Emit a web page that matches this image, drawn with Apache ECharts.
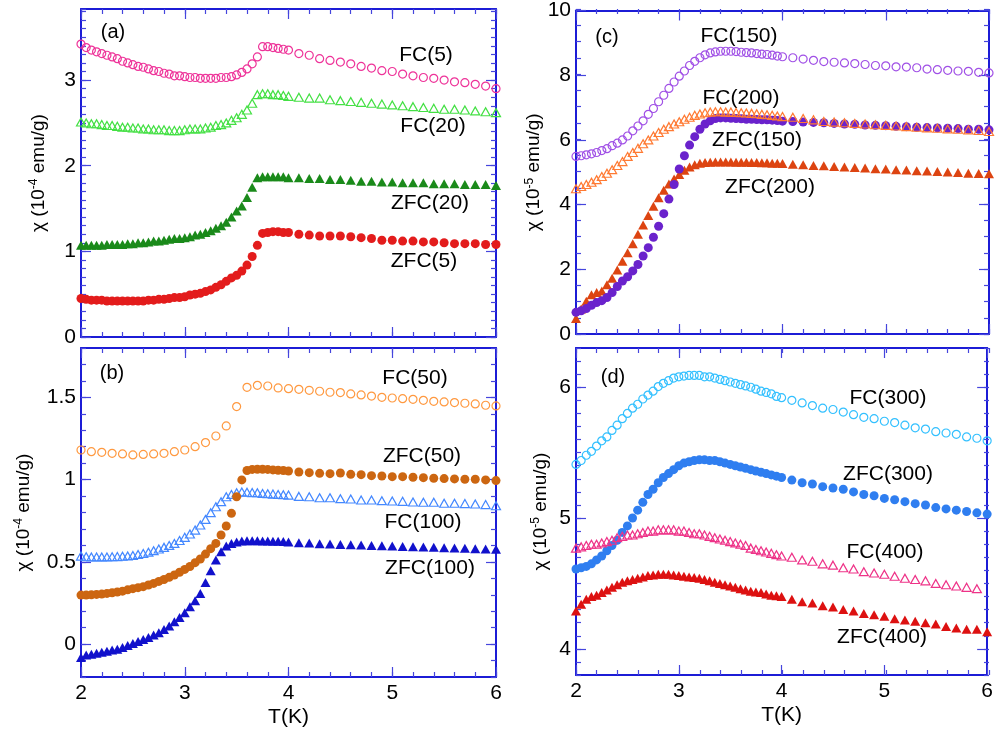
<!DOCTYPE html>
<html><head><meta charset="utf-8">
<script src="https://cdn.jsdelivr.net/npm/echarts@6/dist/echarts.min.js"></script>
<style>html,body{margin:0;padding:0;background:#fff}#c{width:996px;height:737px}</style>
</head><body><div id="c"></div>
<script>
// Temperature grids (K)
const tDense = [2.00,2.05,2.10,2.15,2.20,2.25,2.30,2.35,2.40,2.45,2.50,2.55,2.60,2.65,2.70,2.75,2.80,2.85,2.90,2.95,
  3.00,3.05,3.10,3.15,3.20,3.25,3.30,3.35,3.40,3.45,3.50,3.55,3.60,3.65,3.70,3.75,3.80,3.85,3.90,3.95,4.00,
  4.1,4.2,4.3,4.4,4.5,4.6,4.7,4.8,4.9,5.0,5.1,5.2,5.3,5.4,5.5,5.6,5.7,5.8,5.9,6.0];
const tCoarse = [2.0,2.1,2.2,2.3,2.4,2.5,2.6,2.7,2.8,2.9,3.0,3.1,3.2,3.3,3.4,3.5,3.6,3.7,3.8,3.9,
  4.0,4.1,4.2,4.3,4.4,4.5,4.6,4.7,4.8,4.9,5.0,5.1,5.2,5.3,5.4,5.5,5.6,5.7,5.8,5.9,6.0];

// Panel (a), 1e-4 emu/g
const fc5 = [3.42,3.38,3.35,3.33,3.31,3.29,3.27,3.25,3.22,3.20,3.18,3.16,3.15,3.13,3.11,3.10,3.08,3.07,3.05,3.05,
  3.04,3.03,3.03,3.02,3.02,3.02,3.02,3.03,3.03,3.04,3.06,3.09,3.13,3.19,3.27,3.39,3.39,3.38,3.37,3.36,3.35,
  3.31,3.29,3.25,3.23,3.21,3.19,3.16,3.14,3.11,3.10,3.07,3.05,3.03,3.02,3.00,2.98,2.97,2.95,2.93,2.90];
const fc20 = [2.51,2.50,2.49,2.49,2.48,2.47,2.47,2.46,2.45,2.45,2.44,2.44,2.43,2.43,2.42,2.42,2.42,2.41,2.41,2.41,
  2.42,2.43,2.43,2.43,2.44,2.45,2.47,2.48,2.50,2.53,2.56,2.60,2.65,2.73,2.83,2.84,2.84,2.83,2.83,2.82,2.81,
  2.80,2.79,2.79,2.77,2.76,2.75,2.74,2.73,2.72,2.71,2.70,2.69,2.68,2.67,2.66,2.66,2.65,2.64,2.63,2.62];
const zfc20 = [1.07,1.07,1.07,1.07,1.07,1.08,1.08,1.08,1.08,1.09,1.09,1.10,1.10,1.11,1.12,1.12,1.13,1.14,1.15,1.15,
  1.16,1.17,1.19,1.20,1.22,1.24,1.27,1.30,1.34,1.40,1.47,1.53,1.63,1.75,1.86,1.87,1.87,1.87,1.87,1.87,1.86,
  1.86,1.85,1.85,1.84,1.84,1.83,1.82,1.82,1.81,1.81,1.80,1.80,1.80,1.79,1.79,1.79,1.78,1.78,1.78,1.77];
const zfc5 = [0.45,0.44,0.43,0.43,0.43,0.42,0.42,0.42,0.42,0.42,0.42,0.42,0.42,0.43,0.43,0.44,0.44,0.45,0.46,0.46,
  0.47,0.49,0.50,0.51,0.53,0.55,0.58,0.61,0.65,0.69,0.72,0.77,0.84,0.94,1.07,1.21,1.22,1.23,1.23,1.22,1.22,
  1.20,1.19,1.18,1.18,1.18,1.17,1.16,1.15,1.13,1.13,1.12,1.12,1.11,1.11,1.10,1.09,1.09,1.09,1.08,1.08];

// Panel (b), 1e-4 emu/g
const fc50 = [1.18,1.17,1.166,1.16,1.156,1.15,1.153,1.156,1.16,1.17,1.18,1.20,1.225,1.265,1.326,1.444,1.561,1.573,1.569,1.557,
  1.553,1.549,1.543,1.537,1.531,1.529,1.521,1.515,1.508,1.500,1.496,1.492,1.488,1.482,1.476,1.472,1.468,1.464,1.460,1.452,1.448];
const zfc50 = [0.298,0.298,0.300,0.302,0.304,0.308,0.312,0.317,0.322,0.330,0.337,0.343,0.349,0.359,0.369,0.381,0.393,0.406,0.420,0.437,
  0.454,0.472,0.495,0.517,0.547,0.580,0.612,0.663,0.718,0.795,0.896,0.998,1.055,1.062,1.063,1.063,1.062,1.059,1.057,1.055,1.052,
  1.046,1.042,1.038,1.036,1.040,1.032,1.030,1.024,1.022,1.018,1.018,1.014,1.012,1.008,1.006,1.004,1.002,1.002,0.998,0.994];
const fc100 = [0.535,0.531,0.530,0.530,0.530,0.530,0.531,0.532,0.534,0.536,0.539,0.545,0.551,0.559,0.568,0.578,0.588,0.600,0.612,0.630,
  0.649,0.669,0.693,0.724,0.758,0.799,0.835,0.866,0.896,0.910,0.920,0.925,0.923,0.921,0.920,0.916,0.914,0.912,0.910,0.908,0.906,
  0.898,0.896,0.890,0.890,0.884,0.882,0.876,0.876,0.872,0.870,0.868,0.864,0.862,0.862,0.856,0.856,0.854,0.852,0.848,0.841];
const zfc100 = [-0.081,-0.067,-0.061,-0.055,-0.049,-0.043,-0.036,-0.032,-0.020,-0.008,0.004,0.016,0.028,0.040,0.055,0.069,0.089,0.110,0.136,0.162,
  0.191,0.227,0.264,0.308,0.375,0.446,0.511,0.562,0.596,0.612,0.620,0.626,0.629,0.629,0.629,0.627,0.627,0.625,0.625,0.623,0.620,
  0.616,0.614,0.610,0.608,0.606,0.604,0.602,0.600,0.598,0.596,0.594,0.592,0.590,0.588,0.586,0.584,0.582,0.580,0.578,0.576];

// Panel (c), 1e-5 emu/g
const fc150 = [5.49,5.51,5.54,5.57,5.61,5.67,5.73,5.82,5.90,6.00,6.12,6.28,6.43,6.59,6.79,6.97,7.18,7.38,7.59,7.79,
  7.97,8.13,8.30,8.43,8.54,8.63,8.69,8.72,8.74,8.74,8.74,8.73,8.71,8.70,8.69,8.67,8.65,8.64,8.62,8.59,8.57,
  8.54,8.50,8.46,8.42,8.40,8.38,8.36,8.33,8.30,8.29,8.26,8.25,8.23,8.19,8.17,8.15,8.13,8.12,8.09,8.07];
const fc200 = [4.49,4.56,4.62,4.69,4.77,4.87,4.97,5.08,5.21,5.33,5.49,5.61,5.74,5.88,6.00,6.12,6.23,6.33,6.41,6.49,
  6.56,6.64,6.70,6.76,6.80,6.84,6.86,6.87,6.87,6.86,6.86,6.85,6.84,6.83,6.82,6.81,6.79,6.78,6.76,6.74,6.72,
  6.70,6.66,6.62,6.57,6.55,6.53,6.51,6.49,6.47,6.45,6.43,6.41,6.39,6.37,6.36,6.34,6.33,6.31,6.29,6.26];
const zfc150 = [0.67,0.72,0.79,0.89,0.97,1.03,1.13,1.28,1.47,1.64,1.77,1.95,2.15,2.41,2.67,2.99,3.33,3.72,4.17,4.62,
  5.10,5.51,5.84,6.10,6.33,6.49,6.59,6.66,6.68,6.68,6.67,6.66,6.65,6.64,6.64,6.63,6.62,6.62,6.61,6.60,6.58,
  6.57,6.55,6.54,6.53,6.51,6.49,6.48,6.46,6.45,6.44,6.42,6.41,6.39,6.38,6.37,6.36,6.35,6.33,6.33,6.31];
const zfc200 = [0.48,0.77,1.01,1.21,1.28,1.33,1.52,1.72,1.98,2.25,2.51,2.79,3.08,3.37,3.66,3.95,4.21,4.44,4.64,4.79,
  4.93,5.06,5.16,5.23,5.28,5.30,5.31,5.32,5.32,5.32,5.32,5.31,5.31,5.31,5.30,5.30,5.29,5.29,5.28,5.28,5.27,
  5.25,5.23,5.21,5.20,5.18,5.16,5.15,5.13,5.11,5.10,5.08,5.07,5.05,5.04,5.02,5.01,4.99,4.97,4.96,4.95];

// Panel (d), 1e-5 emu/g
const fc300 = [5.41,5.44,5.48,5.51,5.55,5.59,5.62,5.67,5.71,5.76,5.80,5.84,5.87,5.91,5.94,5.97,6.005,6.03,6.05,6.07,
  6.08,6.085,6.09,6.09,6.09,6.08,6.08,6.07,6.06,6.05,6.04,6.03,6.02,6.01,6.00,5.985,5.97,5.96,5.95,5.93,5.92,
  5.90,5.88,5.86,5.84,5.83,5.81,5.79,5.77,5.76,5.74,5.73,5.71,5.69,5.68,5.66,5.65,5.64,5.62,5.61,5.59];
const zfc300 = [4.61,4.62,4.63,4.65,4.68,4.71,4.75,4.79,4.83,4.89,4.94,5.00,5.06,5.12,5.18,5.22,5.27,5.31,5.34,5.37,
  5.40,5.42,5.43,5.44,5.445,5.445,5.44,5.44,5.43,5.42,5.41,5.40,5.39,5.38,5.37,5.36,5.35,5.34,5.33,5.32,5.31,
  5.29,5.27,5.26,5.24,5.23,5.22,5.20,5.18,5.17,5.15,5.14,5.125,5.11,5.10,5.08,5.07,5.06,5.05,5.04,5.03];
const fc400 = [4.77,4.78,4.79,4.80,4.80,4.81,4.82,4.83,4.85,4.86,4.87,4.87,4.88,4.89,4.90,4.90,4.91,4.91,4.91,4.91,
  4.90,4.90,4.89,4.88,4.88,4.87,4.86,4.85,4.84,4.83,4.82,4.81,4.80,4.79,4.77,4.76,4.75,4.74,4.73,4.72,4.71,
  4.70,4.68,4.67,4.65,4.64,4.62,4.61,4.59,4.58,4.57,4.555,4.54,4.53,4.52,4.50,4.49,4.48,4.47,4.46];
const zfc400 = [4.29,4.34,4.38,4.40,4.41,4.43,4.45,4.47,4.49,4.51,4.52,4.53,4.54,4.55,4.56,4.565,4.57,4.57,4.57,4.565,
  4.56,4.555,4.55,4.545,4.54,4.53,4.52,4.51,4.50,4.49,4.48,4.47,4.46,4.45,4.44,4.435,4.43,4.42,4.41,4.405,4.40,
  4.38,4.36,4.35,4.33,4.32,4.30,4.29,4.27,4.26,4.25,4.23,4.22,4.21,4.20,4.19,4.17,4.16,4.15,4.15,4.13];

// Axis tick values
const xMajorTicks = [2,3,4,5,6];
const yTicksA = [0,1,2,3];
const yTicksB = [0,0.5,1,1.5];
const yTicksC = [0,2,4,6,8,10];
const yTicksD = [4,5,6];

const FONT = '"Liberation Sans", Arial, Helvetica, sans-serif';
const FRAME = '#1c1cd6';
const TICK = '#4545dd';

const panels = [
  {rect:{left:81, top:9, width:415, height:328}, ymin:0, ymax:3.83, yMajor:yTicksA, yMinor:0.1, xLabels:false, exp:'-4', nameGap:31, tag:'(a)', tagPos:[113,32],
   series:[
     {name:'FC(5)', t:tDense, y:fc5, shape:'circle', open:true, color:'#ee3399', pos:[426,55]},
     {name:'FC(20)', t:tDense, y:fc20, shape:'triangle', open:true, color:'#44e044', pos:[433,126]},
     {name:'ZFC(20)', t:tDense, y:zfc20, shape:'triangle', open:false, color:'#1a8a1a', pos:[430,203]},
     {name:'ZFC(5)', t:tDense, y:zfc5, shape:'circle', open:false, color:'#e31c1c', pos:[424,261]}
   ]},
  {rect:{left:81, top:348, width:415, height:329}, ymin:-0.2, ymax:1.8, yMajor:yTicksB, yMinor:0.1, xLabels:true, exp:'-4', nameGap:46, tag:'(b)', tagPos:[112,373],
   series:[
     {name:'FC(50)', t:tCoarse, y:fc50, shape:'circle', open:true, color:'#ff9940', pos:[415,378]},
     {name:'FC(100)', t:tDense, y:fc100, shape:'triangle', open:true, color:'#4488ff', pos:[423,522]},
     {name:'ZFC(50)', t:tDense, y:zfc50, shape:'circle', open:false, color:'#cc6611', pos:[422,456]},
     {name:'ZFC(100)', t:tDense, y:zfc100, shape:'triangle', open:false, color:'#1111cc', pos:[430,568]}
   ]},
  {rect:{left:576, top:9, width:413, height:325}, ymin:0, ymax:10, yMajor:yTicksC, yMinor:0.5, xLabels:false, exp:'-5', nameGap:25, tag:'(c)', tagPos:[607,37],
   series:[
     {name:'FC(150)', t:tDense, y:fc150, shape:'circle', open:true, color:'#a050e6', pos:[739,36]},
     {name:'ZFC(200)', t:tDense, y:zfc200, shape:'triangle', open:false, color:'#dd4411', pos:[770,187]},
     {name:'ZFC(150)', t:tDense, y:zfc150, shape:'circle', open:false, color:'#6a22cc', pos:[757,140]},
     {name:'FC(200)', t:tDense, y:fc200, shape:'triangle', open:true, color:'#ff7a33', pos:[741,98]}
   ]},
  {rect:{left:576, top:348, width:413, height:327}, ymin:3.8, ymax:6.3, yMajor:yTicksD, yMinor:0.1, xLabels:true, exp:'-5', nameGap:24, tag:'(d)', tagPos:[613,377],
   series:[
     {name:'FC(300)', t:tDense, y:fc300, shape:'circle', open:true, color:'#33c0ff', pos:[888,398]},
     {name:'ZFC(300)', t:tDense, y:zfc300, shape:'circle', open:false, color:'#2f7ef0', pos:[888,474]},
     {name:'FC(400)', t:tDense, y:fc400, shape:'triangle', open:true, color:'#ee3388', pos:[885,552]},
     {name:'ZFC(400)', t:tDense, y:zfc400, shape:'triangle', open:false, color:'#dd1111', pos:[882,637]}
   ]}
];

const grid = [], xAxis = [], yAxis = [], series = [], graphic = [];
const lbl = {fontFamily: FONT, fontSize: 21, color: '#000'};

panels.forEach((p, pi) => {
  const gMaj = grid.length;
  grid.push(Object.assign({containLabel:false}, p.rect));
  grid.push(Object.assign({containLabel:false}, p.rect));
  const gMin = gMaj + 1;
  const xBase = xAxis.length, yBase = yAxis.length;
  // major x axes (bottom, top)
  ['bottom','top'].forEach((pos, k) => {
    xAxis.push({
      type:'value', gridIndex:gMaj, position:pos, min:2, max:6, interval:1,
      axisLine:{show:true, onZero:false, lineStyle:{color:FRAME, width:2}},
      axisTick:{show:true, inside:true, length:10, lineStyle:{color:TICK, width:1.2}},
      axisLabel:{show: p.xLabels && k===0, margin:6, ...lbl},
      splitLine:{show:false},
      name: (p.xLabels && k===0) ? 'T(K)' : '', nameLocation:'middle', nameGap:30,
      nameTextStyle:{fontFamily:FONT, fontSize:21, color:'#000'}
    });
  });
  ['bottom','top'].forEach((pos) => {
    xAxis.push({
      type:'value', gridIndex:gMin, position:pos, min:2, max:6, interval:0.2,
      axisLine:{show:false, onZero:false}, axisLabel:{show:false}, splitLine:{show:false},
      axisTick:{show:true, inside:true, length:5, lineStyle:{color:TICK, width:1.2}}
    });
  });
  ['left','right'].forEach((pos, k) => {
    yAxis.push({
      type:'value', gridIndex:gMaj, position:pos, min:p.ymin, max:p.ymax,
      axisLine:{show:true, onZero:false, lineStyle:{color:FRAME, width:2}},
      axisTick:{show:true, inside:true, length:10, customValues:p.yMajor, lineStyle:{color:TICK, width:1.2}},
      axisLabel:{show:k===0, margin:5, customValues:p.yMajor, ...lbl},
      splitLine:{show:false},
      name: k===0 ? '{n|χ (10}{s|' + p.exp + '}{n| emu/g)}' : '',
      nameLocation:'middle', nameRotate:90, nameGap:p.nameGap,
      nameTextStyle:{rich:{
        n:{fontFamily:FONT, fontSize:19, color:'#000', lineHeight:22},
        s:{fontFamily:FONT, fontSize:12, color:'#000', verticalAlign:'top', lineHeight:12}
      }}
    });
  });
  ['left','right'].forEach((pos) => {
    yAxis.push({
      type:'value', gridIndex:gMin, position:pos, min:p.ymin, max:p.ymax, interval:p.yMinor,
      axisLine:{show:false, onZero:false}, axisLabel:{show:false}, splitLine:{show:false},
      axisTick:{show:true, inside:true, length:5, lineStyle:{color:TICK, width:1.2}}
    });
  });
  p.series.forEach(s => {
    const isTri = s.shape === 'triangle';
    const size = isTri ? (s.open ? [9,8] : [10,9]) : (s.open ? 8 : 9);
    series.push({
      type:'scatter', name:s.name, xAxisIndex:xBase, yAxisIndex:yBase,
      data: s.t.slice(0, s.y.length).map((t, i) => [t, s.y[i]]),
      symbol:s.shape, symbolSize:size, silent:true,
      itemStyle: s.open ? {color:'rgba(255,255,255,0)', borderColor:s.color, borderWidth:1.2, opacity:1}
                        : {color:s.color, opacity:1}
    });
    graphic.push({type:'text', x:s.pos[0], y:s.pos[1],
      style:{text:s.name, font:'21px ' + FONT, fill:'#000', textAlign:'center', textVerticalAlign:'middle'}});
  });
  graphic.push({type:'text', x:p.tagPos[0], y:p.tagPos[1],
    style:{text:p.tag, font:'20px ' + FONT, fill:'#000', textAlign:'center', textVerticalAlign:'middle'}});
});

const chart = echarts.init(document.getElementById('c'), null, {renderer:'canvas'});
chart.setOption({animation:false, backgroundColor:'#fff', grid, xAxis, yAxis, series, graphic});
</script>
</body></html>
